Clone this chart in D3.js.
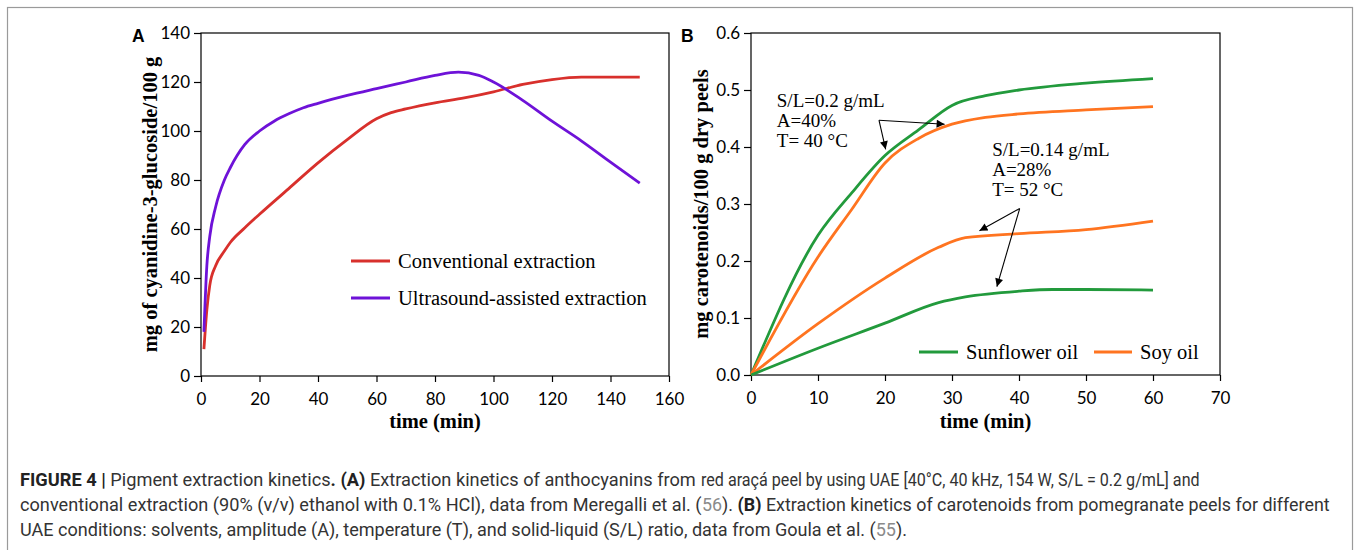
<!DOCTYPE html>
<html><head><meta charset="utf-8">
<script src="https://cdn.jsdelivr.net/npm/d3@7"></script>
<style>body{margin:0;background:#fff}svg{display:block}</style>
</head><body><svg id="c" width="1357" height="550"></svg>
<script>
// ---------- Panel A data ----------
const tA_conv = [1,2,3,5,8,10,15,20,30,40,50,60,65,70,80,90,100,110,120,130,140,150];
const vA_conv = [11,27,37,45,51,54.5,60.5,66,76.5,87,96.5,105,107.5,109,111.5,113.5,116,119,121,122,122,122];
const tA_us = [1,2,3,5,8,10,15,20,25,30,35,40,50,60,70,80,88,95,100,110,120,130,140,150];
const vA_us = [18,45,57,69,80,85,94.5,100,104,107,109.5,111.3,114.5,117.3,120,122.7,124,122.7,120,112.5,104,96,87.3,78.7];
const ticksA_x = [0,20,40,60,80,100,120,140,160];
const ticksA_y = [0,20,40,60,80,100,120,140];
const legendA = ["Conventional extraction","Ultrasound-assisted extraction"];

// ---------- Panel B data ----------
const tB_sunHigh = [0,10,15,20,25,30,35,40,50,60];
const vB_sunHigh = [0,0.245,0.319,0.385,0.43,0.473,0.49,0.50,0.512,0.52];
const tB_soyHigh = [0,10,15,20,25,30,35,40,50,60];
const vB_soyHigh = [0,0.207,0.29,0.372,0.415,0.44,0.452,0.458,0.465,0.471];
const tB_soyLow = [0,10,20,28,32,40,50,60];
const vB_soyLow = [0,0.09,0.17,0.224,0.241,0.248,0.255,0.27];
const tB_sunLow = [0,10,20,28,32,40,45,50,60];
const vB_sunLow = [0,0.047,0.091,0.127,0.137,0.147,0.15,0.15,0.149];
const ticksB_x = [0,10,20,30,40,50,60,70];
const ticksB_y = [0,0.1,0.2,0.3,0.4,0.5,0.6];
const legendB = ["Sunflower oil","Soy oil"];
const annotHigh = ["S/L=0.2 g/mL","A=40%","T= 40 °C"];
const annotLow = ["S/L=0.14 g/mL","A=28%","T= 52 °C"];
// arrows in data units: [fromT, fromV, toT, toV]
const arrowsB = [[19.1,0.447,28.9,0.44],[19.1,0.447,20.1,0.396],[40.1,0.292,34.1,0.253],[40.1,0.292,36.7,0.155]];

const C_RED = "#d8302c", C_PUR = "#6e12d8", C_GRN = "#229a3c", C_ORG = "#ff7420";
const TICKFONT = "Lato, 'Open Sans', sans-serif";
const SERIF = "'Liberation Serif', 'Times New Roman', serif";

const svg = d3.select("#c");
svg.append("rect").attr("x",7.5).attr("y",7.5).attr("width",1345).attr("height",600)
  .attr("fill","none").attr("stroke","#9a9a9a").attr("stroke-width",1.2);

function panel(cfg){
  const g = svg.append("g");
  const x = d3.scaleLinear().domain(cfg.xd).range(cfg.xr);
  const y = d3.scaleLinear().domain(cfg.yd).range(cfg.yr);
  g.append("rect").attr("x",cfg.xr[0]).attr("y",cfg.yr[1]).attr("width",cfg.xr[1]-cfg.xr[0])
    .attr("height",cfg.yr[0]-cfg.yr[1]).attr("fill","none").attr("stroke","#000").attr("stroke-width",1.2);
  const ax = g.append("g").attr("transform",`translate(0,${cfg.yr[0]})`)
    .call(d3.axisBottom(x).tickValues(cfg.xt).tickSize(6).tickSizeOuter(0).tickPadding(11).tickFormat(d3.format("d")));
  const ay = g.append("g").attr("transform",`translate(${cfg.xr[0]},0)`)
    .call(d3.axisLeft(y).tickValues(cfg.yt).tickSize(7).tickSizeOuter(0).tickPadding(4).tickFormat(cfg.yf));
  [ax,ay].forEach(a=>{
    a.selectAll("text").attr("font-family",TICKFONT).attr("font-size",17).attr("fill","#000");
    a.selectAll("line,path").attr("stroke","#000").attr("stroke-width",1.2);
  });
  ax.select(".domain").remove(); ay.select(".domain").remove();
  g.append("text").attr("x",(cfg.xr[0]+cfg.xr[1])/2).attr("y",428).attr("text-anchor","middle")
    .attr("font-family",SERIF).attr("font-weight","bold").attr("font-size",20.5).text("time (min)");
  g.append("text").attr("transform",`translate(${cfg.ytx},${(cfg.yr[0]+cfg.yr[1])/2}) rotate(-90)`)
    .attr("text-anchor","middle").attr("font-family",SERIF).attr("font-weight","bold")
    .attr("font-size",20.5).text(cfg.ytitle);
  g.append("text").attr("x",cfg.lx).attr("y",42).attr("font-family","'Liberation Sans', Arial, sans-serif")
    .attr("font-weight","bold").attr("font-size",17.5).text(cfg.label);
  return {g,x,y};
}

function drawLine(p, ts, vs, color){
  const line = d3.line().x(d=>p.x(d[0])).y(d=>p.y(d[1])).curve(d3.curveMonotoneX);
  p.g.append("path").datum(ts.map((t,i)=>[t,vs[i]])).attr("d",line)
    .attr("fill","none").attr("stroke",color).attr("stroke-width",2.8).attr("stroke-linejoin","round");
}

// ---------- Panel A ----------
const A = panel({xd:[0,160],xr:[201,669],yd:[0,140],yr:[376,33],xt:ticksA_x,yt:ticksA_y,
  yf:d3.format("d"),ytx:157,ytitle:"mg of cyanidine-3-glucoside/100 g",lx:132,label:"A"});
drawLine(A,tA_conv,vA_conv,C_RED);
drawLine(A,tA_us,vA_us,C_PUR);
[[C_RED,261],[C_PUR,298]].forEach((c,i)=>{
  A.g.append("line").attr("x1",351).attr("x2",390).attr("y1",c[1]).attr("y2",c[1])
    .attr("stroke",c[0]).attr("stroke-width",2.8);
  A.g.append("text").attr("x",398).attr("y",c[1]+7).attr("font-family",SERIF).attr("font-size",20.5)
    .text(legendA[i]);
});

// ---------- Panel B ----------
const B = panel({xd:[0,70],xr:[751,1220],yd:[0,0.6],yr:[375,33],xt:ticksB_x,yt:ticksB_y,
  yf:d3.format(".1f"),ytx:708,ytitle:"mg carotenoids/100 g dry peels",lx:681,label:"B"});
drawLine(B,tB_sunHigh,vB_sunHigh,C_GRN);
drawLine(B,tB_soyHigh,vB_soyHigh,C_ORG);
drawLine(B,tB_soyLow,vB_soyLow,C_ORG);
drawLine(B,tB_sunLow,vB_sunLow,C_GRN);
[[C_GRN,919,958,966],[C_ORG,1094,1132,1140]].forEach((c,i)=>{
  B.g.append("line").attr("x1",c[1]).attr("x2",c[2]).attr("y1",352).attr("y2",352)
    .attr("stroke",c[0]).attr("stroke-width",2.8);
  B.g.append("text").attr("x",c[3]).attr("y",359).attr("font-family",SERIF).attr("font-size",20.5)
    .text(legendB[i]);
});
function annot(lines, t, v){
  lines.forEach((s,i)=>{
    B.g.append("text").attr("x",B.x(t)).attr("y",B.y(v)+i*20).attr("font-family",SERIF)
      .attr("font-size",19).text(s);
  });
}
annot(annotHigh, 3.85, 0.47);
annot(annotLow, 36.0, 0.384);
svg.append("defs").append("marker").attr("id","ah").attr("viewBox","0 0 10 10").attr("refX",10).attr("refY",5)
  .attr("markerWidth",10).attr("markerHeight",8).attr("markerUnits","userSpaceOnUse").attr("orient","auto")
  .append("path").attr("d","M0,0 L10,5 L0,10 Z").attr("fill","#000");
arrowsB.forEach(a=>{
  B.g.append("line").attr("x1",B.x(a[0])).attr("y1",B.y(a[1])).attr("x2",B.x(a[2])).attr("y2",B.y(a[3]))
    .attr("stroke","#000").attr("stroke-width",1.1).attr("marker-end","url(#ah)");
});

// ---------- Caption (each segment fitted between x0 and x1) ----------
const capSegs = [
  {y:486, x0:20, x1:696, parts:[["FIGURE 4 |","b"],[" Pigment extraction kinetics",""],[". (A)","b"],[" Extraction kinetics of anthocyanins from",""]]},
  {y:486, x0:701, x1:1200, parts:[["red araçá peel by using UAE [40°C, 40 kHz, 154 W, S/L = 0.2 g/mL] and",""]]},
  {y:511, x0:20, x1:702, parts:[["conventional extraction (90% (v/v) ethanol with 0.1% HCl), data from Meregalli et al. (",""]]},
  {y:511, x0:702, x1:1330, parts:[["56","g"],["). ",""],["(B)","b"],[" Extraction kinetics of carotenoids from pomegranate peels for different",""]]},
  {y:536, x0:20, x1:908, parts:[["UAE conditions: solvents, amplitude (A), temperature (T), and solid-liquid (S/L) ratio, data from Goula et al. (",""],["55","g"],[").",""]]}
];
capSegs.forEach(l=>{
  const t = svg.append("text").attr("x",0).attr("y",0).attr("font-family","'Liberation Sans Narrow', Roboto, sans-serif")
    .attr("font-size",17.5).attr("fill","#333").attr("xml:space","preserve");
  l.parts.forEach(p=>{
    const s = t.append("tspan").text(p[0]);
    if(p[1]==="b") s.attr("font-weight","bold").attr("fill","#222");
    if(p[1]==="g") s.attr("fill","#8a8a8a");
  });
  const w = t.node().getComputedTextLength();
  t.attr("transform",`translate(${l.x0},${l.y}) scale(${(l.x1-l.x0)/w},1)`);
});
</script></body></html>
